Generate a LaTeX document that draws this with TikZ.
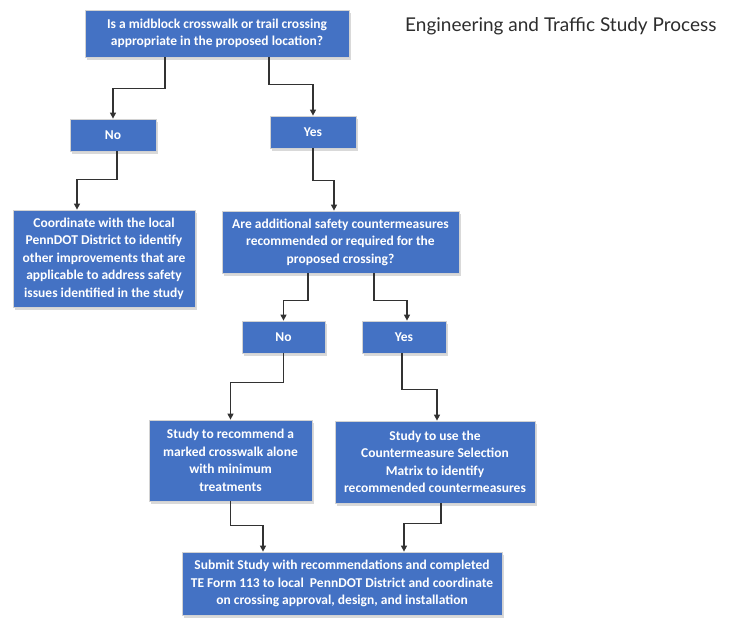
\documentclass[tikz,border=0pt]{standalone}
\usepackage{fontspec}
\setmainfont{Carlito}
\newfontfamily\titlefont{Lato}
\usetikzlibrary{arrows.meta,shadows}
\definecolor{boxblue}{RGB}{68,114,196}
\definecolor{titlegray}{RGB}{45,45,45}
\definecolor{linegray}{RGB}{50,50,50}

\begin{document}
\begin{tikzpicture}[
  x=1pt, y=-1pt,
  >={Triangle[length=6pt,width=6pt]},
  box/.style={rectangle, draw=gray!35, line width=0.8pt, fill=boxblue, text=white, align=center, inner sep=0pt,
    font=\bfseries\fontsize{13.5}{17.5}\selectfont,
    drop shadow={shadow xshift=2pt, shadow yshift=-2.5pt, fill=gray!30, opacity=1}},
  arr/.style={->, line width=1.3pt, color=linegray},
  title/.style={font=\titlefont\fontsize{19}{22}\selectfont, text=titlegray, anchor=west, inner sep=0pt},
]
\useasboundingbox (0,0) rectangle (735,619);

% === Title ===
\node[title] (title) at (405,26) {Engineering and Traffic Study Process};

% === First question and its answers ===
\node[box, minimum width=264pt, minimum height=47pt] (q1) at (217,33.5) {Is a midblock crosswalk or trail crossing\\appropriate in the proposed location?};
\node[box, minimum width=86pt, minimum height=32pt] (no1) at (113,135) {No};
\node[box, minimum width=86pt, minimum height=32pt] (yes1) at (313,132) {Yes};
\node[box, minimum width=182pt, minimum height=97pt] (coord) at (104,258.5) {Coordinate with the local\\PennDOT District to identify\\other improvements that are\\applicable to address safety\\issues identified in the study};

% === Second question and its answers ===
\node[box, minimum width=237pt, minimum height=62pt] (q2) at (340.5,242) {Are additional safety countermeasures\\recommended or required for the\\proposed crossing?};
\node[box, minimum width=83pt, minimum height=32pt] (no2) at (283.5,337) {No};
\node[box, minimum width=84pt, minimum height=32pt] (yes2) at (404,337) {Yes};

% === Studies ===
\node[box, minimum width=163pt, minimum height=81pt] (studyl) at (230.5,460.5) {Study to recommend a\\marked crosswalk alone\\with minimum\\treatments};
\node[box, minimum width=200pt, minimum height=82pt] (studyr) at (435,462) {Study to use the\\Countermeasure Selection\\Matrix to identify\\recommended countermeasures};

% === Submission ===
\node[box, minimum width=320pt, minimum height=63pt] (submit) at (342,583.5) {Submit Study with recommendations and completed\\TE Form 113 to local\ \ PennDOT District and coordinate\\on crossing approval, design, and installation};

% === Connectors ===
\draw[arr] ([xshift=-52pt]q1.south) -- ++(0,31) -| (no1.north);
\draw[arr] ([xshift=52pt]q1.south) -- ++(0,27) -| (yes1.north);
\draw[arr] ([xshift=4pt]no1.south) -- ++(0,28) -| ([xshift=-27pt]coord.north);
\draw[arr] (yes1.south) -- ++(0,32) -| ([xshift=-6.5pt]q2.north);
\draw[arr] ([xshift=-32.5pt]q2.south) -- ++(0,27) -| (no2.north);
\draw[arr] ([xshift=33.5pt]q2.south) -- ++(0,27) -| ([xshift=3pt]yes2.north);
\draw[arr] (no2.south) -- ++(0,29) -| (studyl.north);
\draw[arr] ([xshift=-2pt]yes2.south) -- ++(0,36) -| ([xshift=2pt]studyr.north);
\draw[arr] (studyl.south) -- ++(0,24) -| ([xshift=-79pt]submit.north);
\draw[arr] ([xshift=6pt]studyr.south) -- ++(0,20) -| ([xshift=62pt]submit.north);

\end{tikzpicture}
\end{document}
